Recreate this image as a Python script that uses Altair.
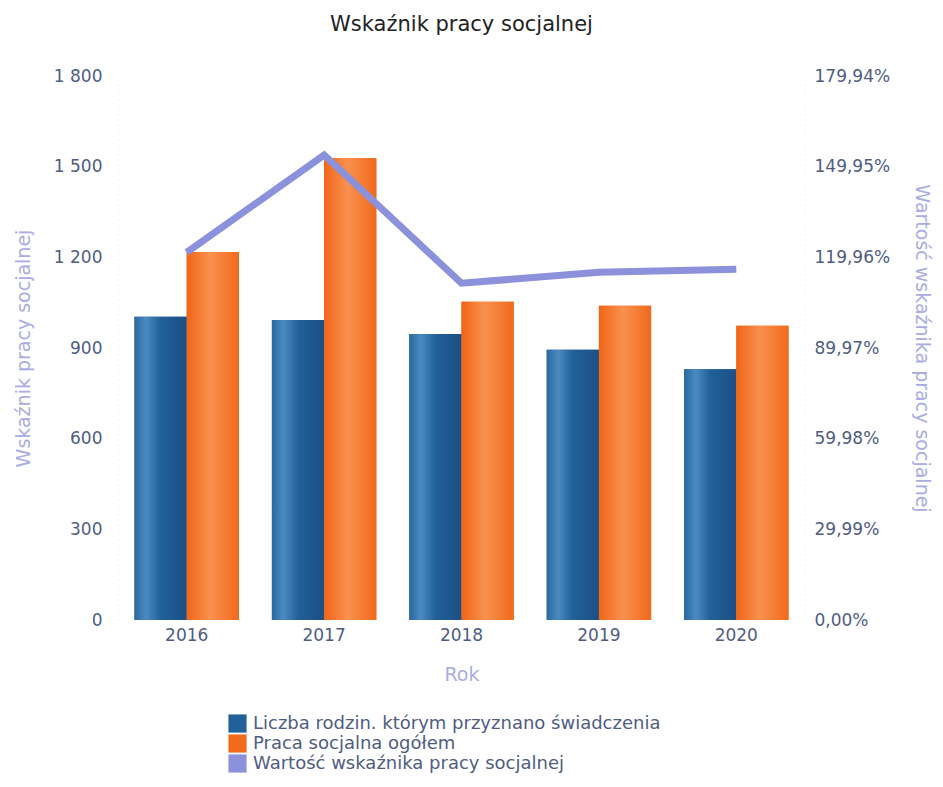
import altair as alt
import pandas as pd

years = ["2016", "2017", "2018", "2019", "2020"]
families = [1003, 993, 946, 894, 830]
social_work = [1218, 1529, 1053, 1040, 974]
indicator = [121.6, 153.8, 111.4, 115.0, 116.0]

s_fam = "Liczba rodzin. którym przyznano świadczenia"
s_work = "Praca socjalna ogółem"
s_ind = "Wartość wskaźnika pracy socjalnej"

bars = pd.DataFrame(
    {"Rok": years * 2,
     "value": families + social_work,
     "series": [s_fam] * 5 + [s_work] * 5,
     "order": [0] * 5 + [1] * 5}
)
line = pd.DataFrame({"Rok": years, "ind": indicator})

FONT = "DejaVu Sans"
LAB = "#4f5d82"
TIT = "#a9ade2"
BLUE = "#22609a"
ORANGE = "#f26a1b"
LAV = "#8b91da"

blue_grad = {"gradient": "linear", "x1": 0, "x2": 1, "y1": 0, "y2": 0,
             "stops": [{"offset": 0, "color": "#2a68a0"},
                       {"offset": 0.22, "color": "#4b8bc0"},
                       {"offset": 0.5, "color": "#22609a"},
                       {"offset": 1, "color": "#1b4f82"}]}
orange_grad = {"gradient": "linear", "x1": 0, "x2": 1, "y1": 0, "y2": 0,
               "stops": [{"offset": 0, "color": "#f06518"},
                         {"offset": 0.45, "color": "#f8914f"},
                         {"offset": 1, "color": "#f06a1b"}]}

x_enc = alt.X("Rok:N", title="Rok", scale=alt.Scale(paddingInner=0.24, paddingOuter=0.12),
              axis=alt.Axis(labelAngle=0, labelFontSize=17, labelColor=LAB, titleColor=TIT,
                            titleFontSize=19, titleFontWeight="normal", ticks=False,
                            domain=False, labelPadding=7, titlePadding=22))

y_left = alt.Y("value:Q", title="Wskaźnik pracy socjalnej",
               scale=alt.Scale(domain=[0, 1800], nice=False),
               axis=alt.Axis(values=[0, 300, 600, 900, 1200, 1500, 1800],
                             labelExpr="replace(format(datum.value, ','), ',', ' ')",
                             labelFontSize=17, labelColor=LAB, titleColor=TIT,
                             titleFontSize=19, titleFontWeight="normal", ticks=False,
                             grid=False, domainColor="#e4e4e4", domainDash=[1, 4],
                             labelPadding=16, titlePadding=20))

base_bar = alt.Chart(bars).encode(
    x=x_enc,
    xOffset=alt.XOffset("order:O"),
    y=y_left,
)

bar_legend = base_bar.mark_bar().encode(
    color=alt.Color("series:N",
                    scale=alt.Scale(domain=[s_fam, s_work, s_ind], range=[BLUE, ORANGE, LAV]),
                    legend=alt.Legend(title=None, orient="none", legendX=110, legendY=638,
                                      direction="vertical", labelFontSize=18, labelColor=LAB,
                                      symbolType="square", symbolSize=330, rowPadding=1,
                                      labelFont=FONT, symbolStrokeWidth=0, labelLimit=700,
                                      labelOffset=6, symbolOffset=0))
)

bar_grad = base_bar.mark_bar().encode(
    fill=alt.condition(alt.datum.order == 0, alt.value(blue_grad), alt.value(orange_grad))
)

bars_layer = alt.layer(bar_legend, bar_grad)

line_layer = alt.Chart(line).mark_line(color=LAV, strokeWidth=7, strokeCap="butt").encode(
    x=alt.X("Rok:N"),
    y=alt.Y("ind:Q", title="Wartość wskaźnika pracy socjalnej",
            scale=alt.Scale(domain=[0, 179.94], nice=False),
            axis=alt.Axis(orient="right",
                          values=[0, 29.99, 59.98, 89.97, 119.96, 149.95, 179.94],
                          labelExpr="replace(format(datum.value, '.2f'), '.', ',') + '%'",
                          labelFontSize=17, labelColor=LAB, titleColor=TIT,
                          titleFontSize=19, titleFontWeight="normal", ticks=False,
                          grid=False, domainColor="#e4e4e4", domainDash=[1, 4],
                          labelPadding=9, titlePadding=22)),
)

chart = alt.layer(bars_layer, line_layer).resolve_scale(y="independent").properties(
    width=687, height=544,
    title=alt.TitleParams("Wskaźnik pracy socjalnej", fontSize=21, fontWeight="normal",
                          color="#222222", font=FONT, offset=32),
    autosize=alt.AutoSizeParams(type="none"),
    padding={"left": 110, "top": 68, "right": 130, "bottom": 159},
).configure_view(stroke=None).configure_axis(labelFont=FONT, titleFont=FONT).configure_legend(
    labelFont=FONT)

chart.save("out.html", embed_options={"renderer": "svg", "actions": False})
